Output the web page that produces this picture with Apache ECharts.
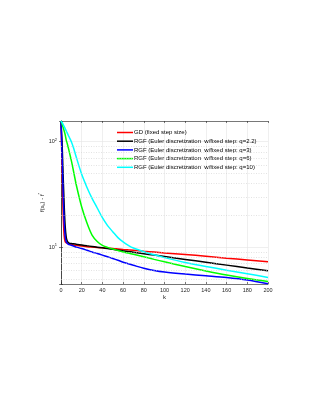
<!DOCTYPE html>
<html>
<head>
<meta charset="utf-8">
<script src="https://cdn.jsdelivr.net/npm/echarts@6/dist/echarts.min.js"></script>
<style>html,body{margin:0;padding:0;background:#fff;}#c{width:319px;height:413px;}</style>
</head>
<body>
<div id="c"></div>
<script>
const k     = [0,1,2,3,4,5,6,7,8,10,12,15,20,25,30,35,40,45,50,55,60,65,70,80,90,100,120,140,160,180,200];
const gd    = [157,60,22,13,11.3,11.0,10.85,10.75,10.7,10.6,10.5,10.4,10.25,10.1,10.0,9.92,9.85,9.77,9.7,9.6,9.5,9.42,9.35,9.15,8.97,8.8,8.5,8.2,7.85,7.55,7.25];
const rgf22 = [157,100,50,26,16,12.5,11.4,11.05,10.9,10.8,10.75,10.64,10.47,10.3,10.14,9.99,9.84,9.68,9.53,9.38,9.23,9.09,8.95,8.67,8.4,8.14,7.65,7.19,6.75,6.34,5.96];
const rgf3  = [157,75,35,18,12.8,11.3,10.9,10.7,10.55,10.4,10.25,10.0,9.7,9.35,9.0,8.7,8.4,8.1,7.8,7.5,7.2,6.95,6.72,6.3,6.0,5.8,5.55,5.35,5.15,4.88,4.5];
const rgf6  = [157,147,137,127,117,104,96,88,80,66,53,38,24,17,13,11.3,10.4,9.95,9.6,9.3,9.0,8.78,8.55,8.1,7.65,7.25,6.55,5.95,5.45,5.05,4.73];
const rgf10 = [157,152,146,140,133,127,121,115,110,100,88,70,49,37,29,23.5,19,16,14,12.3,11.2,10.4,9.8,9.05,8.45,7.95,7.15,6.55,6.05,5.6,5.15];
const seriesNames = [
  'GD (fixed step size)',
  'RGF (Euler discretization  w/fixed step: q=2.2)',
  'RGF (Euler discretization  w/fixed step: q=3)',
  'RGF (Euler discretization  w/fixed step: q=6)',
  'RGF (Euler discretization  w/fixed step: q=10)'
];
const seriesColors = ['#ff0000','#000000','#0000ff','#00ff00','#00ffff'];
const xTicks = [0,20,40,60,80,100,120,140,160,180,200];
const yMinorTicks = [5,6,7,8,9,20,30,40,50,60,70,80,90];
const yRange = [4.47, 157];

const font = 'Liberation Sans';
const axisColor = '#262626';
const allSeries = [gd, rgf22, rgf3, rgf6, rgf10];

const chart = echarts.init(document.getElementById('c'));

function yFmt(v){
  const e = Math.log10(v);
  if (Math.abs(e - Math.round(e)) < 1e-6) return '{b|10}{s|' + Math.round(e) + '}';
  return '';
}

const series = [{
  type: 'line', name: '__grid', data: [], silent: true, z: 1,
  markLine: {
    silent: true, symbol: 'none', label: {show: false},
    lineStyle: {color: '#d0d0d0', type: [1, 1.5], width: 0.6},
    data: yMinorTicks.map(v => ({yAxis: v}))
  }
}];
allSeries.forEach((arr, i) => {
  series.push({
    type: 'line', name: seriesNames[i],
    data: k.map((x, j) => [x, arr[j]]),
    showSymbol: false, symbol: 'none', smooth: 0.3, z: 3,
    lineStyle: {color: seriesColors[i], width: 1.5},
    itemStyle: {color: seriesColors[i]}
  });
});

const axisBase = {
  axisLine: {show: true, lineStyle: {color: axisColor, width: 0.6}},
  axisTick: {show: true, inside: true, length: 2, lineStyle: {color: axisColor, width: 0.6}}
};

chart.setOption({
  animation: false,
  backgroundColor: '#ffffff',
  grid: {left: 61, top: 121, width: 207, height: 163, containLabel: false},
  legend: {
    data: seriesNames, orient: 'vertical', left: 117, top: 129.5,
    icon: 'rect', itemWidth: 16, itemHeight: 1.5, itemGap: 2.7, padding: 0,
    textStyle: {fontFamily: font, fontSize: 6, color: '#000', lineHeight: 6, padding: [0,0,0,-4]}
  },
  xAxis: [{
    type: 'value', min: 0, max: 200, interval: 20, position: 'bottom',
    ...axisBase,
    axisLabel: {fontFamily: font, fontSize: 5.5, color: axisColor, margin: 3,
      formatter: v => xTicks.includes(v) ? String(v) : ''},
    splitLine: {show: true, lineStyle: {color: '#e4e4e4', width: 0.6}},
    name: 'k', nameLocation: 'middle', nameGap: 10, nameMoveOverlap: false,
    nameTextStyle: {fontFamily: font, fontSize: 6, color: axisColor}
  }, {
    type: 'value', min: 0, max: 200, interval: 20, position: 'top',
    ...axisBase, axisLabel: {show: false}, splitLine: {show: false}
  }],
  yAxis: [{
    type: 'log', logBase: 10, min: yRange[0], max: yRange[1], position: 'left',
    ...axisBase,
    axisLabel: {fontFamily: font, color: axisColor, margin: 4, formatter: yFmt,
      rich: {b: {fontSize: 5.5, fontFamily: font, color: axisColor},
             s: {fontSize: 4, fontFamily: font, color: axisColor, verticalAlign: 'top', padding: [0,0,4,0]}}},
    splitLine: {show: true, lineStyle: {color: '#e4e4e4', width: 0.6}},
    name: '{n|f(x}{sub|k}{n|) - f}{sup|*}', nameLocation: 'middle', nameGap: 15, nameMoveOverlap: false,
    nameTextStyle: {fontFamily: font, fontSize: 6, color: axisColor,
      rich: {n: {fontSize: 6, fontFamily: font, color: axisColor},
             sub: {fontSize: 4, fontFamily: font, color: axisColor, padding: [4,0,0,0]},
             sup: {fontSize: 4, fontFamily: font, color: axisColor, padding: [0,0,4,0]}}}
  }, {
    type: 'log', logBase: 10, min: yRange[0], max: yRange[1], position: 'right',
    ...axisBase, axisLabel: {show: false}, splitLine: {show: false}
  }],
  series: series
});
</script>
</body>
</html>
